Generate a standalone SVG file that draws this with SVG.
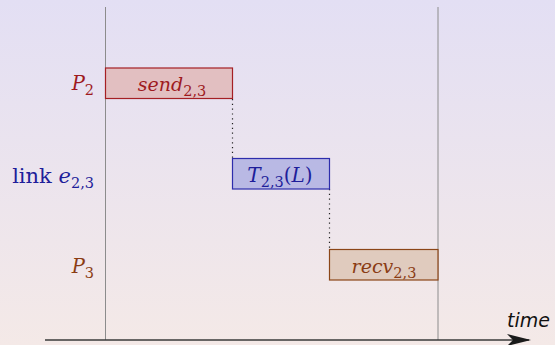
<svg xmlns="http://www.w3.org/2000/svg" width="555" height="345" viewBox="0 0 555 345">
<defs>
<linearGradient id="bg" x1="0" y1="0" x2="0" y2="1">
<stop offset="0" stop-color="#e3dff4"/>
<stop offset="1" stop-color="#f4e9e7"/>
</linearGradient>
<marker id="arr" viewBox="0 0 24 12" refX="22" refY="6" markerWidth="24" markerHeight="12" markerUnits="userSpaceOnUse" orient="auto">
<path d="M0,0 L24,6 L0,12 L6,6 Z" fill="#1a1a1a"/>
</marker>
<style>
.it{font-style:italic}
.sub{font-size:14.5px;font-style:normal}
.vl{stroke:#8c8c8c;stroke-width:1}
.dot{stroke:#222;stroke-width:1.2;stroke-dasharray:1.2 3.6;fill:none}
.red{fill:#9e1a1e}
.blue{fill:#1e1e9a}
.brown{fill:#8a3c14}
</style>
</defs>
<rect x="0" y="0" width="555" height="345" fill="url(#bg)"/>
<g id="gridlines">
<line class="vl" x1="105.5" y1="7" x2="105.5" y2="340"/>
<line class="vl" x1="438" y1="7" x2="438" y2="340"/>
</g>
<g id="axis">
<line x1="45" y1="340" x2="529" y2="340" stroke="#3a3a3a" stroke-width="1.3" marker-end="url(#arr)"/>
<text x="507" y="327" font-family="DejaVu Sans, sans-serif" font-style="italic" font-size="19" fill="#111">time</text>
</g>
<g id="row-labels" font-family="DejaVu Serif, serif" font-size="19.5">
<text class="red" x="94" y="90" text-anchor="end"><tspan class="it">P</tspan><tspan class="sub" dy="5">2</tspan></text>
<text class="blue" x="94" y="183" text-anchor="end" font-size="21">link <tspan class="it">e</tspan><tspan class="sub" dy="5">2,3</tspan></text>
<text class="brown" x="94" y="273" text-anchor="end"><tspan class="it">P</tspan><tspan class="sub" dy="5">3</tspan></text>
</g>
<g id="connectors">
<line class="dot" x1="232.5" y1="99" x2="232.5" y2="158"/>
<line class="dot" x1="329.5" y1="189" x2="329.5" y2="249"/>
</g>
<g id="send" font-family="DejaVu Serif, serif" font-size="19">
<rect x="105.5" y="68" width="127" height="30.5" fill="#e2bfc1" stroke="#a51f24" stroke-width="1.2"/>
<text class="red" x="172" y="91" text-anchor="middle"><tspan class="it">send</tspan><tspan class="sub" dy="5">2,3</tspan></text>
</g>
<g id="transfer" font-family="DejaVu Serif, serif" font-size="20">
<rect x="232.5" y="158.5" width="97" height="30.5" fill="#b9b9e4" stroke="#2d2dac" stroke-width="1.2"/>
<text class="blue" x="280" y="182" text-anchor="middle"><tspan class="it">T</tspan><tspan class="sub" dy="5">2,3</tspan><tspan dy="-5">(</tspan><tspan class="it">L</tspan>)</text>
</g>
<g id="recv" font-family="DejaVu Serif, serif" font-size="19">
<rect x="329.5" y="249.5" width="108.5" height="30.5" fill="#e0cbbe" stroke="#8b4517" stroke-width="1.2"/>
<text class="brown" x="384" y="273" text-anchor="middle"><tspan class="it">recv</tspan><tspan class="sub" dy="5">2,3</tspan></text>
</g>
</svg>
